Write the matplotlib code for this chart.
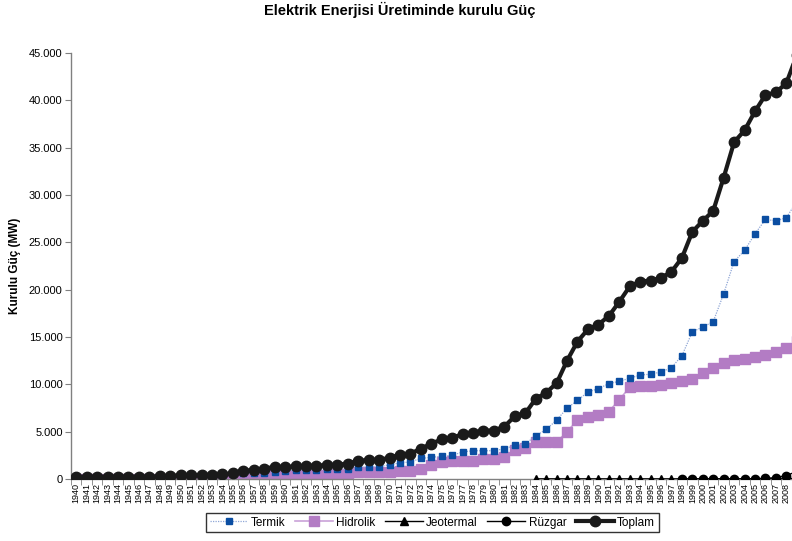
import numpy as np
import matplotlib.pyplot as plt
from matplotlib.ticker import FuncFormatter, MultipleLocator

plt.rcParams['font.family'] = ['Liberation Sans', 'DejaVu Sans']

years = list(range(1940, 2010))

termik = [209, 216, 226, 229, 233, 236, 237, 241, 270, 302,
          390, 391, 409, 431, 467, 547, 609, 620, 686, 741,
          861, 921, 969, 990, 1004, 1005, 1076, 1218, 1300, 1300,
          1510, 1690, 1815, 2175, 2284, 2407, 2491, 2855, 2985, 2985,
          2988, 3181, 3556, 3696, 4569, 5229, 6220, 7474, 8299, 9194,
          9536, 10078, 10320, 10638, 10978, 11074, 11297, 11772, 13021, 15556,
          16053, 16623, 19569, 22974, 24145, 25902, 27420, 27272, 27595, 29339]

hidrolik = [8, 8, 8, 8, 8, 10, 10, 10, 10, 10,
            18, 18, 19, 20, 21, 65, 282, 319, 421, 532,
            412, 412, 419, 421, 469, 503, 551, 698, 711, 735,
            725, 872, 872, 1018, 1449, 1780, 1873, 1872, 1883, 2131,
            2131, 2356, 3082, 3239, 3875, 3875, 3878, 5003, 6218, 6597,
            6764, 7114, 8379, 9682, 9865, 9863, 9935, 10103, 10307, 10537,
            11175, 11673, 12241, 12579, 12645, 12906, 13063, 13395, 13829, 14553]

jeo_years = list(range(1984, 2010))
jeotermal = [17.5] * 19 + [15.0] * 3 + [23.0, 23.0, 29.8, 77.2]

ruzgar_years = list(range(1998, 2010))
ruzgar = [8.7, 8.7, 18.9, 18.9, 18.9, 18.9, 18.9, 20.1, 59.0, 146.3, 363.7, 791.6]

toplam = [217, 224, 234, 237, 241, 246, 247, 251, 280, 312,
          408, 410, 428, 451, 488, 612, 891, 939, 1107, 1273,
          1272, 1333, 1388, 1411, 1473, 1508, 1627, 1916, 2011, 2035,
          2235, 2562, 2687, 3194, 3733, 4187, 4364, 4727, 4868, 5116,
          5119, 5538, 6639, 6935, 8462, 9122, 10115, 12495, 14521, 15808,
          16318, 17209, 18716, 20338, 20860, 20954, 21249, 21892, 23354, 26119,
          27264, 28332, 31846, 35587, 36824, 38844, 40565, 40836, 41817, 44761]

fig = plt.figure(figsize=(7.92, 5.41), dpi=100)
# axis runs a little past the right edge, last year is clipped
ax = fig.add_axes([71 / 792, 62 / 541, 731 / 792, 426 / 541])

ax.plot(years, termik, color='#8fa6d6', lw=0.9, ls=(0, (1, 1)),
        marker='s', ms=4, mfc='#0b4ea2', mec='#0b4ea2', label='Termik', zorder=3)
ax.plot(years, hidrolik, color='#c9a2d8', lw=1.2,
        marker='s', ms=6.5, mfc='#b37cc4', mec='#b37cc4', label='Hidrolik', zorder=2)
ax.plot(jeo_years, jeotermal, color='black', lw=1,
        marker='^', ms=5.5, label='Jeotermal', zorder=4)
ax.plot(ruzgar_years, ruzgar, color='black', lw=1,
        marker='o', ms=6, label='Rüzgar', zorder=5)
ax.plot(years, toplam, color='#1a1a1a', lw=3,
        marker='o', ms=7.5, label='Toplam', zorder=6)

ax.set_xlim(1939.5, 2009.5)
ax.set_ylim(0, 45000)
ax.yaxis.set_major_locator(MultipleLocator(5000))
ax.yaxis.set_major_formatter(FuncFormatter(lambda v, p: f'{int(v):,}'.replace(',', '.')))
ax.set_xticks(years)
ax.set_xticklabels([str(y) for y in years], rotation=90, fontsize=6.5)
ax.set_xticks(np.arange(1939.5, 2010, 1), minor=True)
ax.tick_params(axis='x', which='major', length=0, pad=3)
ax.tick_params(axis='x', which='minor', length=4, color='#808080')
ax.tick_params(axis='y', length=4, color='#808080', labelsize=8, pad=2)

for side in ['top', 'right']:
    ax.spines[side].set_visible(False)
for side in ['left', 'bottom']:
    ax.spines[side].set_color('#808080')
    ax.spines[side].set_linewidth(1)

ax.set_ylabel('Kurulu Güç (MW)', fontsize=8.5, fontweight='bold', labelpad=6)
fig.text(0.505, 0.981, 'Elektrik Enerjisi Üretiminde kurulu Güç',
         ha='center', va='center', fontsize=10.5, fontweight='bold')

leg = fig.legend(*ax.get_legend_handles_labels(), loc='center', ncol=5,
                 bbox_to_anchor=(0.546, 0.034), fontsize=8.5, frameon=True,
                 fancybox=False, edgecolor='black', handlelength=3.2,
                 columnspacing=0.8, handletextpad=0.3, borderpad=0.3)
leg.get_frame().set_linewidth(1)

fig.savefig('out.png', dpi=100)
